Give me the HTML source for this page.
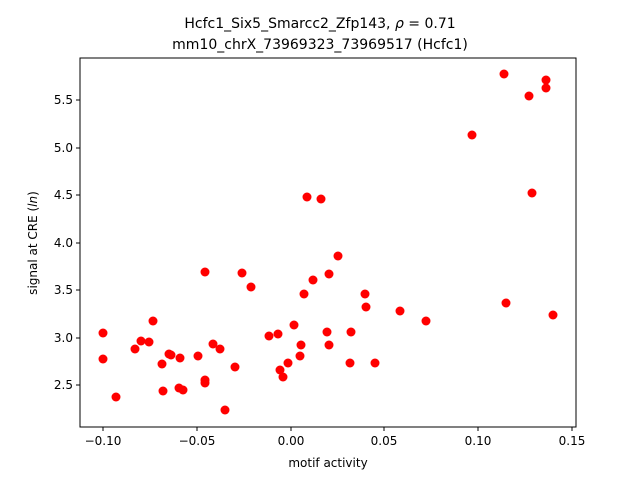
<!DOCTYPE html>
<html><head><style>body{margin:0;background:#fff}svg{display:block;font-family:"DejaVu Sans","Liberation Sans",sans-serif}</style></head><body>
<svg width="640" height="480" xmlns="http://www.w3.org/2000/svg">
<rect width="640" height="480" fill="#fff"/>
<text x="320" y="28" text-anchor="middle" font-size="14">Hcfc1_Six5_Smarcc2_Zfp143, <tspan font-style="italic">ρ</tspan> = 0.71</text>
<text x="320" y="49" text-anchor="middle" font-size="14">mm10_chrX_73969323_73969517 (Hcfc1)</text>
<g fill="red">
<circle cx="103" cy="333" r="4.5"/><circle cx="103" cy="359" r="4.5"/><circle cx="116" cy="397" r="4.5"/><circle cx="135" cy="349" r="4.5"/><circle cx="141" cy="341" r="4.5"/><circle cx="149" cy="342" r="4.5"/><circle cx="153" cy="321" r="4.5"/><circle cx="162" cy="364" r="4.5"/><circle cx="163" cy="391" r="4.5"/><circle cx="169" cy="354" r="4.5"/><circle cx="171" cy="355" r="4.5"/><circle cx="180" cy="358" r="4.5"/><circle cx="179" cy="388" r="4.5"/><circle cx="183" cy="390" r="4.5"/><circle cx="198" cy="356" r="4.5"/><circle cx="205" cy="272" r="4.5"/><circle cx="205" cy="380" r="4.5"/><circle cx="205" cy="383" r="4.5"/><circle cx="213" cy="344" r="4.5"/><circle cx="220" cy="349" r="4.5"/><circle cx="225" cy="410" r="4.5"/><circle cx="235" cy="367" r="4.5"/><circle cx="242" cy="273" r="4.5"/><circle cx="251" cy="287" r="4.5"/><circle cx="269" cy="336" r="4.5"/><circle cx="278" cy="334" r="4.5"/><circle cx="280" cy="370" r="4.5"/><circle cx="283" cy="377" r="4.5"/><circle cx="288" cy="363" r="4.5"/><circle cx="294" cy="325" r="4.5"/><circle cx="300" cy="356" r="4.5"/><circle cx="301" cy="345" r="4.5"/><circle cx="304" cy="294" r="4.5"/><circle cx="307" cy="197" r="4.5"/><circle cx="313" cy="280" r="4.5"/><circle cx="321" cy="199" r="4.5"/><circle cx="327" cy="332" r="4.5"/><circle cx="329" cy="274" r="4.5"/><circle cx="329" cy="345" r="4.5"/><circle cx="338" cy="256" r="4.5"/><circle cx="350" cy="363" r="4.5"/><circle cx="351" cy="332" r="4.5"/><circle cx="365" cy="294" r="4.5"/><circle cx="366" cy="307" r="4.5"/><circle cx="375" cy="363" r="4.5"/><circle cx="400" cy="311" r="4.5"/><circle cx="426" cy="321" r="4.5"/><circle cx="472" cy="135" r="4.5"/><circle cx="504" cy="74" r="4.5"/><circle cx="506" cy="303" r="4.5"/><circle cx="529" cy="96" r="4.5"/><circle cx="532" cy="193" r="4.5"/><circle cx="546" cy="88" r="4.5"/><circle cx="546" cy="80" r="4.5"/><circle cx="553" cy="315" r="4.5"/>
</g>
<rect x="80" y="58" width="496" height="369" fill="none" stroke="#000" stroke-width="1"/>
<g stroke="#000"><line x1="103" y1="427" x2="103" y2="431"/><line x1="197" y1="427" x2="197" y2="431"/><line x1="291" y1="427" x2="291" y2="431"/><line x1="384" y1="427" x2="384" y2="431"/><line x1="478" y1="427" x2="478" y2="431"/><line x1="572" y1="427" x2="572" y2="431"/>
<line x1="76" y1="385" x2="80" y2="385"/><line x1="76" y1="338" x2="80" y2="338"/><line x1="76" y1="290" x2="80" y2="290"/><line x1="76" y1="243" x2="80" y2="243"/><line x1="76" y1="195" x2="80" y2="195"/><line x1="76" y1="148" x2="80" y2="148"/><line x1="76" y1="100" x2="80" y2="100"/></g>
<g font-size="12" text-anchor="middle"><text x="103" y="445">−0.10</text><text x="197" y="445">−0.05</text><text x="291" y="445">0.00</text><text x="384" y="445">0.05</text><text x="478" y="445">0.10</text><text x="572" y="445">0.15</text></g>
<g font-size="12" text-anchor="end"><text x="73" y="389">2.5</text><text x="73" y="342">3.0</text><text x="73" y="294">3.5</text><text x="73" y="247">4.0</text><text x="73" y="199">4.5</text><text x="73" y="152">5.0</text><text x="73" y="104">5.5</text></g>
<text x="328" y="467" text-anchor="middle" font-size="12">motif activity</text>
<text transform="translate(37,243) rotate(-90)" text-anchor="middle" font-size="12">signal at CRE (<tspan font-style="italic">ln</tspan>)</text>
</svg>
</body></html>
